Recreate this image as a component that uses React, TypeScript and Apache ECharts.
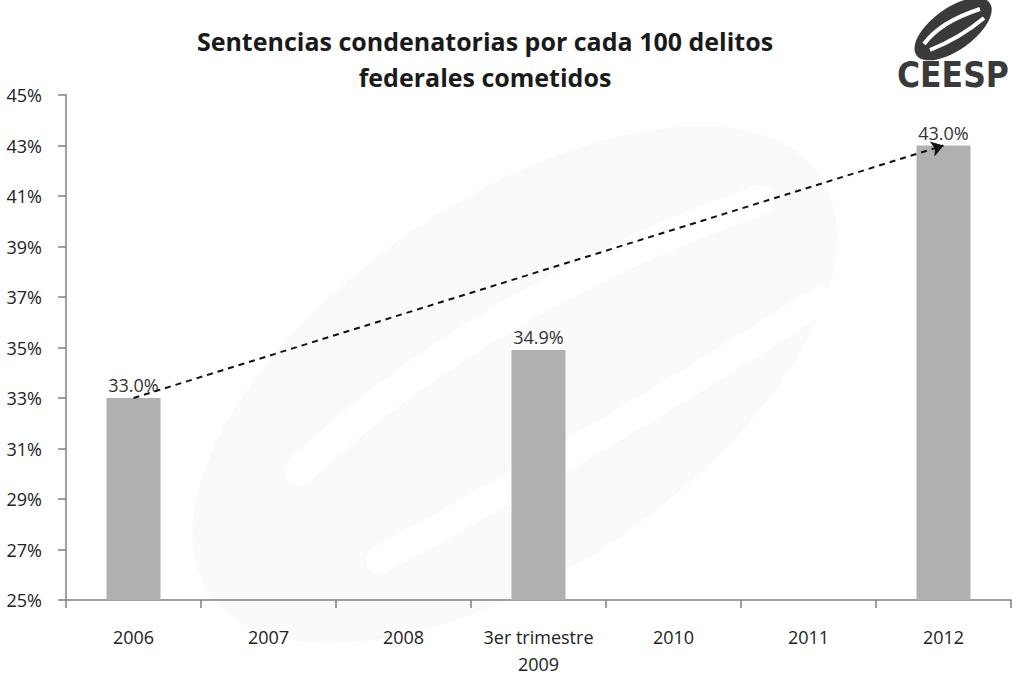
import React, { useEffect, useRef } from "react";
import * as echarts from "echarts";

const categories = ["2006", "2007", "2008", "3er trimestre\n2009", "2010", "2011", "2012"];
const values: (number | null)[] = [33.0, null, null, 34.9, null, null, 43.0];
const titleText = "Sentencias condenatorias por cada 100 delitos\nfederales cometidos";
const arrowStart = { cat: "2006", value: 33.0 };
const arrowEnd = { cat: "2012", value: 43.0 };

export default function App() {
  const ref = useRef<HTMLDivElement>(null);
  useEffect(() => {
    const chart = echarts.init(ref.current!, undefined, { renderer: "svg" });
    const font = "'Open Sans', Lato, sans-serif";
    chart.setOption({
      animation: false,
      backgroundColor: "#ffffff",
      title: {
        text: titleText,
        left: 480,
        top: 18,
        textAlign: "center",
        textStyle: { fontFamily: font, fontSize: 25, fontWeight: "bold", color: "#1a1a1a", lineHeight: 36 },
      },
      grid: { left: 66, right: 1, top: 95, bottom: 74, containLabel: false, outerBoundsMode: "none" },
      xAxis: {
        type: "category",
        data: categories,
        axisLine: { lineStyle: { color: "#808080", width: 1.5 } },
        axisTick: { show: true, alignWithLabel: false, interval: 0, length: 8, inside: false, lineStyle: { color: "#808080", width: 1.5 } },
        axisLabel: { interval: 0, fontFamily: font, fontSize: 18, color: "#222", margin: 23, lineHeight: 27 },
      },
      yAxis: {
        type: "value",
        min: 25,
        max: 45,
        interval: 2,
        splitLine: { show: false },
        axisLine: { show: true, lineStyle: { color: "#808080", width: 1.5 } },
        axisTick: { show: true, length: 8, lineStyle: { color: "#808080", width: 1.5 } },
        axisLabel: { formatter: "{value}%", fontFamily: font, fontSize: 18, color: "#222", margin: 24, align: "right" },
      },
      graphic: [
        {
          type: "group",
          silent: true,
          z: -10,
          children: [
            { type: "ellipse", shape: { cx: 515, cy: 385, rx: 370, ry: 185 }, rotation: 0.6, originX: 515, originY: 385, style: { fill: "rgba(0,0,0,0.02)" } },
            { type: "bezierCurve", shape: { x1: 300, y1: 470, cpx1: 480, cpy1: 300, x2: 760, y2: 200 }, style: { stroke: "#fff", lineWidth: 30, fill: null, lineCap: "round" } },
            { type: "bezierCurve", shape: { x1: 380, y1: 560, cpx1: 620, cpy1: 430, x2: 820, y2: 300 }, style: { stroke: "#fff", lineWidth: 28, fill: null, lineCap: "round" } },
          ],
        },
        {
          type: "group",
          children: [
            { type: "ellipse", shape: { cx: 953, cy: 29, rx: 45, ry: 21 }, rotation: 0.62, originX: 953, originY: 29, style: { fill: "#3a3a3a" } },
            { type: "bezierCurve", shape: { x1: 924, y1: 44, cpx1: 940, cpy1: 22, x2: 980, y2: 9 }, style: { stroke: "#fff", lineWidth: 4, fill: null } },
            { type: "bezierCurve", shape: { x1: 930, y1: 50, cpx1: 960, cpy1: 38, x2: 984, y2: 18 }, style: { stroke: "#fff", lineWidth: 4, fill: null } },
            { type: "text", x: 897, y: 57, style: { text: "CEESP", font: "bold 35px 'Liberation Sans Narrow', 'DejaVu Sans Condensed', sans-serif", fill: "#3a3a3a" } },
          ],
        },
      ],
      series: [
        {
          type: "bar",
          data: values,
          barWidth: "40%",
          itemStyle: { color: "#b0b0b0" },
          label: {
            show: true,
            position: "top",
            distance: 4,
            formatter: (p: any) => (p.value == null ? "" : p.value.toFixed(1) + "%"),
            fontFamily: font,
            fontSize: 18,
            color: "#333",
          },
          markLine: {
            silent: true,
            symbol: ["none", "arrow"],
            symbolSize: [12, 12],
            label: { show: false },
            lineStyle: { type: [6, 5], color: "#111", width: 2 },
            data: [[{ coord: [arrowStart.cat, arrowStart.value] }, { coord: [arrowEnd.cat, arrowEnd.value] }]],
          },
        },
      ],
    });
    return () => chart.dispose();
  }, []);
  return <div ref={ref} style={{ position: "fixed", left: 0, top: 0, width: 1012, height: 674 }} />;
}
